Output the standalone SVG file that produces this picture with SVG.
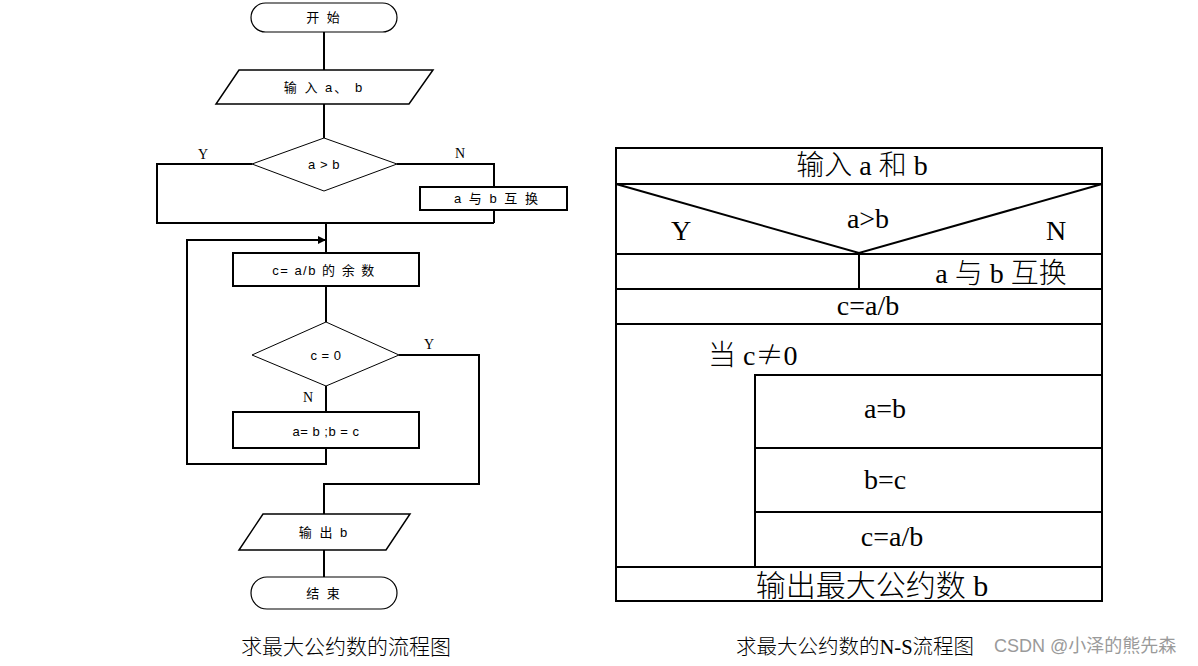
<svg xmlns="http://www.w3.org/2000/svg" width="1198" height="666" viewBox="0 0 1198 666">
<style>
.bg{fill:#fff}
.sh{fill:#fff;stroke:#000;stroke-width:2}
.thin{fill:#fff;stroke:#000;stroke-width:1.2}
.ln{fill:none;stroke:#000;stroke-width:2}
.t{font-family:"Liberation Sans","Noto Sans CJK SC",sans-serif;font-size:13px;fill:#000;text-anchor:middle;letter-spacing:2px}
.yn{font-family:"Liberation Serif",serif;font-size:14px;fill:#000}
.ns{font-family:"Liberation Serif","Noto Sans CJK SC",serif;font-size:28px;fill:#000;font-weight:300}
.cap{font-family:"Liberation Serif","Noto Sans CJK SC",serif;font-size:21px;fill:#000;font-weight:300}
.wm{font-family:"Liberation Sans","Noto Sans CJK SC",sans-serif;font-size:18px;fill:#9a9a9a}
.cjk{font-family:"Noto Sans CJK SC",sans-serif}
</style>
<defs>
<marker id="arr" viewBox="0 0 10 10" refX="10" refY="5" markerWidth="10" markerHeight="8" markerUnits="userSpaceOnUse" orient="auto">
<path d="M0,0 L10,5 L0,10 z" fill="#000"/>
</marker>
</defs>
<rect class="bg" x="0" y="0" width="1198" height="666"/>

<g id="connectors">
<path class="ln" d="M324,32 V70"/>
<path class="ln" d="M324,104 V138"/>
<path class="ln" d="M252,164 H157 V223 H494"/>
<path class="ln" d="M397,164 H494 V187"/>
<path class="ln" d="M494,210 V223"/>
<path class="ln" d="M326,223 V253"/>
<path class="ln" d="M326,286 V322"/>
<path class="ln" d="M326,386 V412"/>
<path class="ln" d="M326,448 V464 H187 V240 H326" marker-end="url(#arr)"/>
<path class="ln" d="M399,355 H479 V484 H324 V514"/>
<path class="ln" d="M324,550 V577"/>
</g>

<g id="start">
<rect class="thin" x="251" y="3" width="146" height="29" rx="14.5"/>
<text class="t" x="324" y="22">开 始</text>
</g>
<g id="input">
<polygon class="thin" points="239,70 433,70 409,104 216,104" style="stroke-width:1.5"/>
<text class="t" x="324" y="92">输 入 a、 b</text>
</g>
<g id="cond1">
<polygon class="thin" points="324,138 397,164 324,191 252,164" style="stroke-width:1"/>
<text class="t" x="324" y="169" style="letter-spacing:0.5px">a &gt; b</text>
<text class="yn" x="198" y="159">Y</text>
<text class="yn" x="455" y="158">N</text>
</g>
<g id="swap">
<rect class="sh" x="420" y="187" width="147" height="23"/>
<text class="t" x="497" y="203">a 与 b 互 换</text>
</g>
<g id="mod">
<rect class="sh" x="233" y="253" width="186" height="33"/>
<text class="t" x="324" y="275" style="letter-spacing:1.5px">c= a/b 的 余 数</text>
</g>
<g id="cond2">
<polygon class="thin" points="326,322 399,355 326,386 252,355" style="stroke-width:1"/>
<text class="t" x="326" y="360" style="letter-spacing:0.5px">c = 0</text>
<text class="yn" x="424" y="349">Y</text>
<text class="yn" x="303" y="402">N</text>
</g>
<g id="assign">
<rect class="sh" x="233" y="412" width="186" height="36"/>
<text class="t" x="326" y="436" style="letter-spacing:0.5px">a= b ;b = c</text>
</g>
<g id="output">
<polygon class="thin" points="263,514 410,514 386,550 239,550" style="stroke-width:1.5"/>
<text class="t" x="324" y="537">输 出 b</text>
</g>
<g id="end">
<rect class="thin" x="251" y="577" width="146" height="32" rx="16"/>
<text class="t" x="324" y="598">结 束</text>
</g>
<text class="cap" x="346" y="654" text-anchor="middle">求最大公约数的流程图</text>

<g id="ns-chart">
<rect class="ln" x="616" y="148" width="486" height="453"/>
<path class="ln" d="M616,184 H1102 M616,184 L859,253 L1102,184 M616,254 H1102 M859,254 V289 M616,289 H1102 M616,324 H1102 M755,567 V375 H1102 M755,448 H1102 M755,512 H1102 M616,567 H1102"/>
<text class="ns" x="862" y="175" text-anchor="middle">输入 a 和 b</text>
<text class="ns" x="868" y="228" text-anchor="middle">a&gt;b</text>
<text class="ns" x="671" y="240">Y</text>
<text class="ns" x="1046" y="240">N</text>
<text class="ns" x="1001" y="283" text-anchor="middle">a 与 b 互换</text>
<text class="ns" x="868" y="315" text-anchor="middle">c=a/b</text>
<text class="ns" x="708" y="365">当 c<tspan class="cjk">≠</tspan>0</text>
<text class="ns" x="885" y="418" text-anchor="middle">a=b</text>
<text class="ns" x="885" y="489" text-anchor="middle">b=c</text>
<text class="ns" x="892" y="546" text-anchor="middle">c=a/b</text>
<text class="ns" x="872" y="596" text-anchor="middle" style="font-size:30px">输出最大公约数 b</text>
</g>
<text class="cap" x="736" y="654" style="font-size:20.5px">求最大公约数的N-S流程图</text>
<text class="wm" x="994" y="652">CSDN @小泽的熊先森</text>
</svg>
